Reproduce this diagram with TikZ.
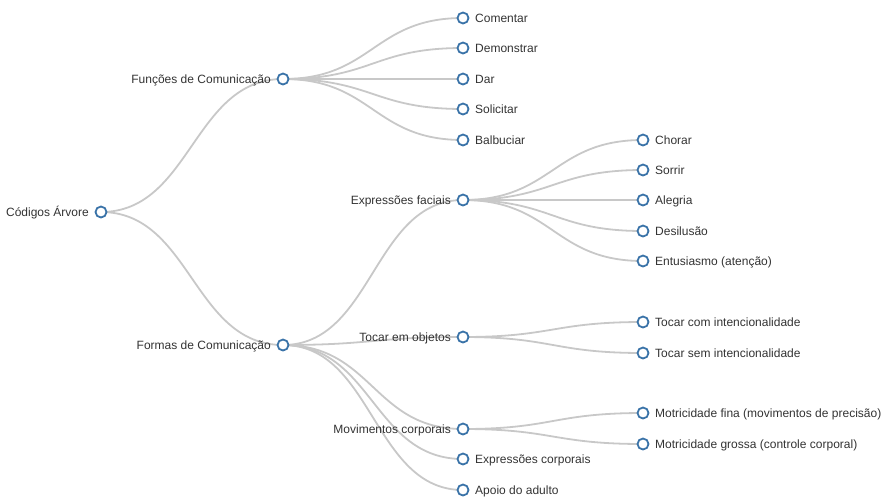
\documentclass[tikz,border=0pt]{standalone}
\usepackage{fontspec}
\setmainfont{Liberation Sans}
\begin{document}
\begin{tikzpicture}[x=1pt,y=-1pt,
  dot/.style={circle,draw=steelblue,fill=white,line width=1.8pt,minimum size=11pt,inner sep=0pt},
  lnk/.style={draw=linkgray,line width=1.8pt},
  lbl/.style={font=\fontsize{12}{14}\selectfont,text=textgray,inner sep=0pt},
  rl/.style={lbl,anchor=base west,yshift=-4.2pt},
  ll/.style={lbl,anchor=base east,yshift=-4.2pt}]
\definecolor{steelblue}{HTML}{3A73A8}
\definecolor{linkgray}{HTML}{C8C8C8}
\definecolor{textgray}{HTML}{333333}
\useasboundingbox (0,0) rectangle (882,496);
% nodes positions
\coordinate (r) at (101,212);
\coordinate (f1) at (283,79);
\coordinate (f2) at (283,345);
\coordinate (c1) at (463,18);
\coordinate (c2) at (463,48);
\coordinate (c3) at (463,79);
\coordinate (c4) at (463,109);
\coordinate (c5) at (463,140);
\coordinate (ef) at (463,200);
\coordinate (to) at (463,337);
\coordinate (mc) at (463,429);
\coordinate (ec) at (463,459);
\coordinate (ap) at (463,490);
\coordinate (e1) at (643,140);
\coordinate (e2) at (643,170);
\coordinate (e3) at (643,200);
\coordinate (e4) at (643,231);
\coordinate (e5) at (643,261);
\coordinate (t1) at (643,322);
\coordinate (t2) at (643,353);
\coordinate (m1) at (643,413);
\coordinate (m2) at (643,444);
% links
\foreach \a/\b in {r/f1,r/f2,f1/c1,f1/c2,f1/c3,f1/c4,f1/c5,f2/ef,f2/to,f2/mc,f2/ec,f2/ap,ef/e1,ef/e2,ef/e3,ef/e4,ef/e5,to/t1,to/t2,mc/m1,mc/m2}
  \draw[lnk] (\a) .. controls ([xshift=90pt]\a) and ([xshift=-90pt]\b) .. (\b);
% labels
\node[ll] (lr) at ([xshift=-12pt]r) {Códigos Árvore};
\node[ll] (lf1) at ([xshift=-12pt]f1) {Funções de Comunicação};
\node[ll] (lf2) at ([xshift=-12pt]f2) {Formas de Comunicação};
\node[ll] (lef) at ([xshift=-12pt]ef) {Expressões faciais};
\node[ll] (lto) at ([xshift=-12pt]to) {Tocar em objetos};
\node[ll] (lmc) at ([xshift=-12pt]mc) {Movimentos corporais};
\node[rl] (lc1) at ([xshift=12pt]c1) {Comentar};
\node[rl] (lc2) at ([xshift=12pt]c2) {Demonstrar};
\node[rl] (lc3) at ([xshift=12pt]c3) {Dar};
\node[rl] (lc4) at ([xshift=12pt]c4) {Solicitar};
\node[rl] (lc5) at ([xshift=12pt]c5) {Balbuciar};
\node[rl] (lec) at ([xshift=12pt]ec) {Expressões corporais};
\node[rl] (lap) at ([xshift=12pt]ap) {Apoio do adulto};
\node[rl] (le1) at ([xshift=12pt]e1) {Chorar};
\node[rl] (le2) at ([xshift=12pt]e2) {Sorrir};
\node[rl] (le3) at ([xshift=12pt]e3) {Alegria};
\node[rl] (le4) at ([xshift=12pt]e4) {Desilusão};
\node[rl] (le5) at ([xshift=12pt]e5) {Entusiasmo (atenção)};
\node[rl] (lt1) at ([xshift=12pt]t1) {Tocar com intencionalidade};
\node[rl] (lt2) at ([xshift=12pt]t2) {Tocar sem intencionalidade};
\node[rl] (lm1) at ([xshift=12pt]m1) {Motricidade fina (movimentos de precisão)};
\node[rl] (lm2) at ([xshift=12pt]m2) {Motricidade grossa (controle corporal)};
% dots
\foreach \n in {r,f1,f2,c1,c2,c3,c4,c5,ef,to,mc,ec,ap,e1,e2,e3,e4,e5,t1,t2,m1,m2}
  \node[dot] (d\n) at (\n) {};
\end{tikzpicture}
\end{document}
